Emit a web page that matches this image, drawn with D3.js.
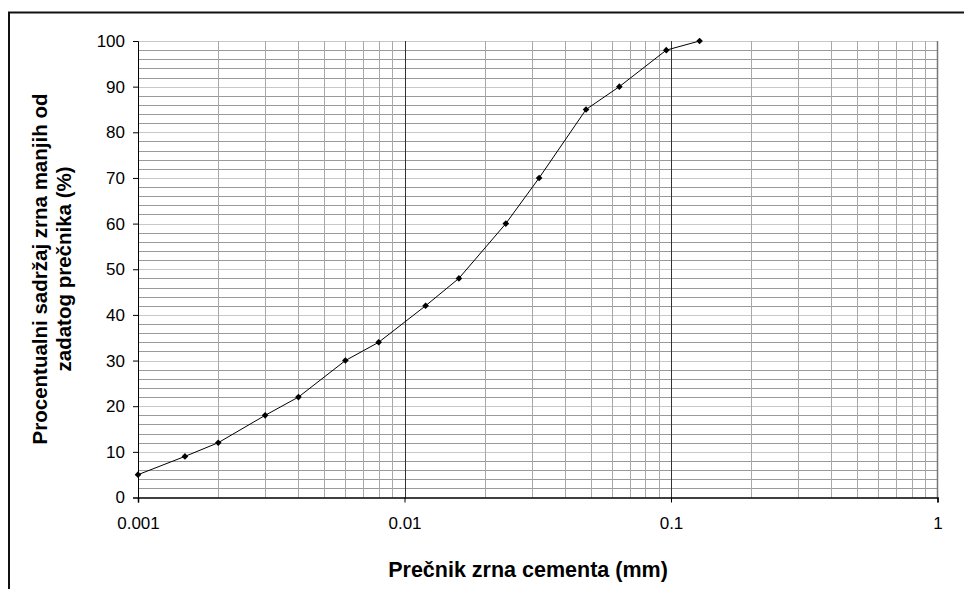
<!DOCTYPE html>
<html><head><meta charset="utf-8">
<script src="https://cdn.jsdelivr.net/npm/d3@7"></script>
<style>body{margin:0;background:#fff}svg{display:block}text{font-family:"Liberation Sans",Arial,sans-serif}</style>
</head><body><svg id="c" width="964" height="589"></svg>
<script>
const diameters = [0.001,0.0015,0.002,0.003,0.004,0.006,0.008,0.012,0.016,0.024,0.032,0.048,0.064,0.096,0.128];
const percents  = [5,9,12,18,22,30,34,42,48,60,70,85,90,98,100];
const xTickLabels = ["0.001","0.01","0.1","1"];
const yTicks = [0,10,20,30,40,50,60,70,80,90,100];
const xTitle = "Prečnik zrna cementa (mm)";
const yTitle = ["Procentualni sadržaj zrna manjih od","zadatog prečnika (%)"];

const svg = d3.select("#c");
const L=138,R=937.5,T=41,B=497.5;
const x = d3.scaleLog().domain([0.001,1]).range([L,R]);
const y = d3.scaleLinear().domain([0,100]).range([B,T]);

// outer frame
svg.append("rect").attr("x",9).attr("y",12.5).attr("width",1000).attr("height",1000)
  .attr("fill","none").attr("stroke","#111").attr("stroke-width",2);

// horizontal grid (every 2)
const hg = d3.range(2,101,2);
svg.append("g").selectAll("line").data(hg).join("line")
  .attr("x1",L).attr("x2",R).attr("y1",d=>Math.round(y(d))+0.5).attr("y2",d=>Math.round(y(d))+0.5)
  .attr("stroke",d=>d%10===0?"#c8c8c8":"#9a9a9a").attr("stroke-width",1);

// vertical minor grid
const vMinor=[];
[0.001,0.01,0.1].forEach(dec=>{for(let k=2;k<=9;k++)vMinor.push(dec*k);});
svg.append("g").selectAll("line").data(vMinor).join("line")
  .attr("x1",d=>Math.round(x(d))+0.5).attr("x2",d=>Math.round(x(d))+0.5).attr("y1",T).attr("y2",B)
  .attr("stroke","#a8a8a8").attr("stroke-width",1);
// decade lines
svg.append("g").selectAll("line").data([0.01,0.1]).join("line")
  .attr("x1",d=>Math.round(x(d))+0.5).attr("x2",d=>Math.round(x(d))+0.5).attr("y1",T).attr("y2",B)
  .attr("stroke","#333").attr("stroke-width",1);
// right border of plot
svg.append("line").attr("x1",R).attr("x2",R).attr("y1",T).attr("y2",B).attr("stroke","#777").attr("stroke-width",1.5);

// axes
const yAxis = d3.axisLeft(y).tickValues(yTicks).tickSize(5).tickPadding(8);
const gy = svg.append("g").attr("transform",`translate(${L},0)`).call(yAxis);
gy.selectAll("text").attr("font-size",17).attr("fill","#000");
gy.select(".domain").attr("stroke","#000");
gy.selectAll(".tick line").attr("stroke","#000");

const xAxis = d3.axisBottom(x).tickValues([0.001,0.01,0.1,1]).tickFormat((d,i)=>xTickLabels[i]).tickSize(5).tickPadding(14);
const gx = svg.append("g").attr("transform",`translate(0,${B})`).call(xAxis);
gx.selectAll("text").attr("font-size",17).attr("fill","#000");
gx.select(".domain").attr("stroke","#000").attr("stroke-width",1.5);
gx.selectAll(".tick line").attr("stroke","#000");

// line & points
const line = d3.line().x((d,i)=>x(diameters[i])).y(d=>y(d));
svg.append("path").datum(percents).attr("d",line).attr("fill","none").attr("stroke","#000").attr("stroke-width",1);
const sym = d3.symbol().type(d3.symbolSquare).size(22);
svg.append("g").selectAll("path").data(percents).join("path")
  .attr("d",sym).attr("transform",(d,i)=>`translate(${x(diameters[i])},${y(d)}) rotate(45)`).attr("fill","#000");

// titles
svg.append("text").attr("x",528).attr("y",577).attr("text-anchor","middle")
  .attr("font-size",21.5).attr("font-weight","bold").text(xTitle);
const yt = svg.append("text").attr("transform","translate(47,269) rotate(-90)").attr("text-anchor","middle")
  .attr("font-size",20.5).attr("font-weight","bold");
yt.append("tspan").attr("x",0).attr("dy",0).text(yTitle[0]);
yt.append("tspan").attr("x",0).attr("dy",24).text(yTitle[1]);
</script></body></html>
